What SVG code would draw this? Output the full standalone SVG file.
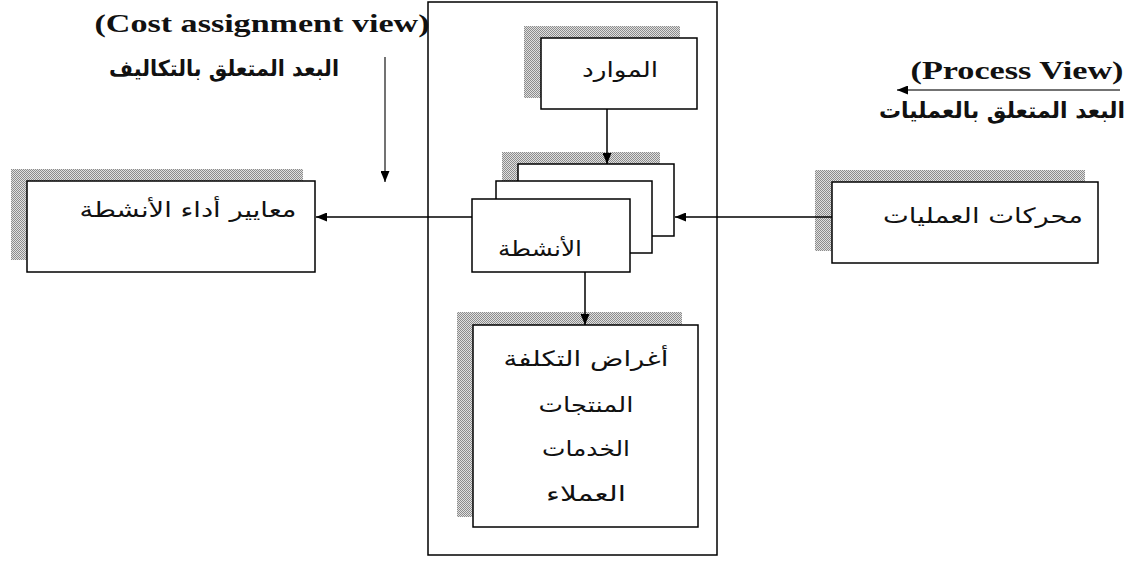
<svg xmlns="http://www.w3.org/2000/svg" width="1131" height="563" viewBox="0 0 1131 563">
<defs>
<pattern id="dither" width="2" height="2" patternUnits="userSpaceOnUse">
<rect width="2" height="2" fill="#e0e0e0"/>
<rect width="1" height="1" fill="#8c8c8c"/>
<rect x="1" y="1" width="1" height="1" fill="#8c8c8c"/>
</pattern>
<marker id="ah" viewBox="0 0 11 9" refX="11" refY="4.5" markerWidth="11" markerHeight="9" markerUnits="userSpaceOnUse" orient="auto">
<path d="M0,0 L11,4.5 L0,9 Z" fill="#000"/>
</marker>
</defs>
<style>
.box{fill:#fff;stroke:#000;stroke-width:1.5}
.shadow{fill:url(#dither)}
.ar{font-family:"DejaVu Sans","Liberation Sans",sans-serif;font-size:21px;fill:#111;text-anchor:middle}
.arb{font-family:"DejaVu Sans","Liberation Sans",sans-serif;font-size:22px;font-weight:bold;fill:#111;text-anchor:middle}
.en{font-family:"Liberation Serif",serif;font-size:26px;font-weight:bold;fill:#111;text-anchor:middle}
.conn{stroke:#000;stroke-width:1.5;fill:none}
.dim{stroke:#444;stroke-width:1.5;fill:none}
</style>
<rect width="1131" height="563" fill="#fff"/>

<g id="frame">
<rect x="428" y="2" width="289" height="553" class="box"/>
</g>

<g id="cost-view-label">
<text x="262" y="32" class="en" textLength="335" lengthAdjust="spacingAndGlyphs">(Cost assignment view)</text>
<text x="224" y="76" class="arb" direction="rtl" textLength="230" lengthAdjust="spacingAndGlyphs">البعد المتعلق بالتكاليف</text>
</g>

<g id="process-view-label">
<text x="1017" y="79" class="en" textLength="213" lengthAdjust="spacingAndGlyphs">(Process View)</text>
<text x="1002" y="118" class="arb" direction="rtl" textLength="246" lengthAdjust="spacingAndGlyphs">البعد المتعلق بالعمليات</text>
</g>

<g id="resources">
<rect x="524" y="26" width="156" height="72" class="shadow"/>
<rect x="541" y="38" width="156" height="71" class="box"/>
<text x="620" y="77" class="ar" direction="rtl" textLength="76" lengthAdjust="spacingAndGlyphs">الموارد</text>
</g>

<g id="activities">
<rect x="502" y="152" width="158" height="72" class="shadow"/>
<rect x="518" y="164" width="156" height="72" class="box"/>
<rect x="496" y="181" width="156" height="72" class="box"/>
<rect x="472" y="199" width="158" height="73" class="box"/>
<text x="540" y="256" class="ar" direction="rtl" textLength="84" lengthAdjust="spacingAndGlyphs">الأنشطة</text>
</g>

<g id="performance-measures">
<rect x="11" y="169" width="292" height="91" class="shadow"/>
<rect x="27" y="181" width="288" height="91" class="box"/>
<text x="188" y="217" class="ar" direction="rtl" textLength="217" lengthAdjust="spacingAndGlyphs">معايير أداء الأنشطة</text>
</g>

<g id="process-drivers">
<rect x="815" y="170" width="270" height="81" class="shadow"/>
<rect x="832" y="182" width="266" height="81" class="box"/>
<text x="983" y="223" class="ar" direction="rtl" textLength="200" lengthAdjust="spacingAndGlyphs">محركات العمليات</text>
</g>

<g id="cost-objects">
<rect x="457" y="312" width="225" height="205" class="shadow"/>
<rect x="473" y="325" width="225" height="202" class="box"/>
<text x="586" y="366" class="ar" direction="rtl" textLength="165" lengthAdjust="spacingAndGlyphs">أغراض التكلفة</text>
<text x="586" y="412" class="ar" direction="rtl" textLength="95" lengthAdjust="spacingAndGlyphs">المنتجات</text>
<text x="586" y="456" class="ar" direction="rtl" textLength="88" lengthAdjust="spacingAndGlyphs">الخدمات</text>
<text x="586" y="501" class="ar" direction="rtl" textLength="80" lengthAdjust="spacingAndGlyphs">العملاء</text>
</g>

<g id="connectors">
<line x1="607" y1="109" x2="607" y2="164" class="conn" marker-end="url(#ah)"/>
<line x1="832" y1="217" x2="675" y2="217" class="conn" marker-end="url(#ah)"/>
<line x1="472" y1="217" x2="316" y2="217" class="conn" marker-end="url(#ah)"/>
<line x1="585" y1="272" x2="585" y2="325" class="conn" marker-end="url(#ah)"/>
<line x1="385" y1="57" x2="385" y2="182" class="dim" marker-end="url(#ah)"/>
<line x1="1120" y1="90" x2="897" y2="90" class="dim" marker-end="url(#ah)"/>
</g>
</svg>
